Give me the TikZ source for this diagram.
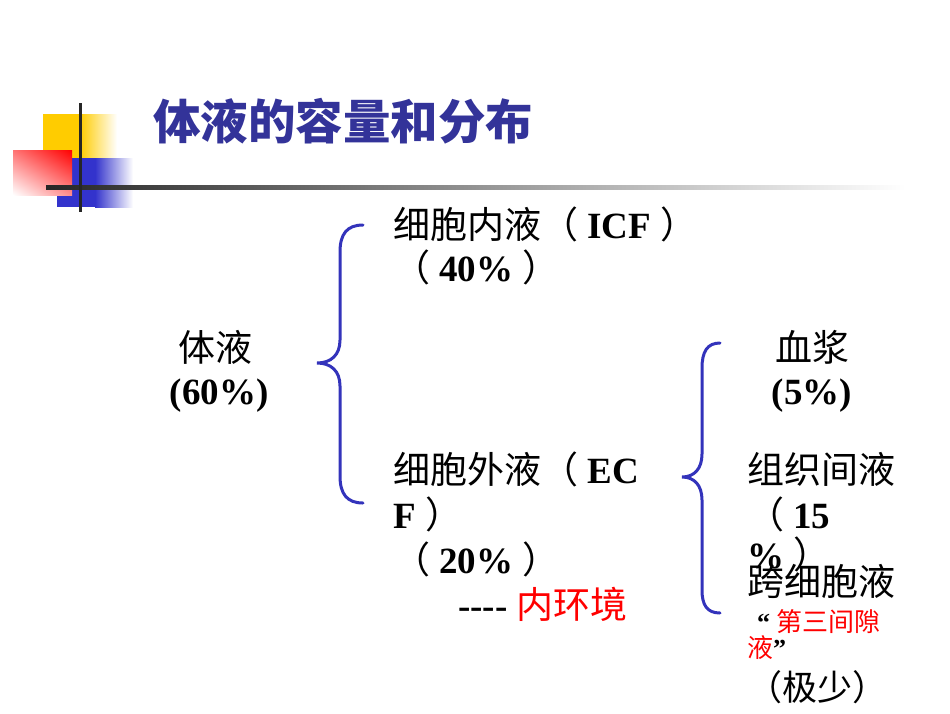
\documentclass[tikz,border=0pt]{standalone}
\usepackage{fontspec}
\usetikzlibrary{shadings}
\setmainfont{Liberation Serif}
\newfontfamily\cjk{Noto Sans CJK SC}
\newcommand\zht[1]{{\cjk #1}}
\newcommand\ent[1]{{\bfseries #1}}
\definecolor{titleblue}{RGB}{51,51,153}
\definecolor{braceblue}{RGB}{51,51,187}
\definecolor{decoyellow}{RGB}{255,204,0}
\definecolor{decoblue}{RGB}{51,51,204}
\definecolor{txtred}{RGB}{255,0,0}
\tikzset{
  body/.style={anchor=base west, inner sep=0pt, font=\fontsize{37}{44}\selectfont},
  small/.style={anchor=base west, inner sep=0pt, font=\fontsize{26}{30}\selectfont},
  bracestroke/.style={draw=braceblue, line width=3pt, line cap=round},
}
\begin{document}
\begin{tikzpicture}[x=1pt,y=-1pt]
\useasboundingbox (0,0) rectangle (950,713);
\fill[white] (0,0) rectangle (950,713);
% decoration squares
\fill[decoyellow] (43,114) rectangle (80,158);
\shade[left color=decoyellow, right color=white] (80,114) rectangle (117,158);
\fill[decoblue] (57,158) rectangle (95,207);
\shade[left color=decoblue, right color=white] (95,158) rectangle (133,207);
\shade[upper right=txtred, upper left=txtred!55!white, lower left=white, lower right=txtred!45!white] (13,150) rectangle (72,195);
\shade[left color=black!85, right color=white] (46,185.5) rectangle (905,189);
\fill[black!85] (79,103) rectangle (81.5,212);
% title
\node[anchor=base west, inner sep=0pt, text=titleblue, font=\fontsize{47.5}{52}\selectfont\cjk\bfseries] (title) at (153,139) {体液的容量和分布};
% left
\node[body, anchor=base] (tl1) at (215,361) {\zht{体液}};
\node[body, anchor=base] (tl2) at (219,404) {\ent{(60\%)}};
% left brace
\draw[bracestroke] (363,225) .. controls (347,225) and (340,234) .. (340,252) -- (340,340)
  .. controls (340,355) and (331,363) .. (317,363)
  .. controls (331,363) and (340,371) .. (340,386) -- (340,476)
  .. controls (340,494) and (347,503) .. (363,503);
% middle
\node[body] (icf1) at (393,238) {\zht{细胞内液（} \ent{ICF} \zht{）}};
\node[body] (icf2) at (393,281) {\zht{（} \ent{40\%} \zht{）}};
\node[body] (ecf1) at (393,483) {\zht{细胞外液（} \ent{EC}};
\node[body] (ecf2) at (393,528) {\ent{F} \zht{）}};
\node[body] (ecf3) at (393,573) {\zht{（} \ent{20\%} \zht{）}};
\node[body] (ecf4) at (458,618) {\ent{-{}-{}-{}-} \textcolor{txtred}{\zht{内环境}}};
% right brace
\draw[bracestroke] (720,343) .. controls (707,343) and (702,352) .. (702,368) -- (702,454)
  .. controls (702,469) and (694,477) .. (682,477)
  .. controls (694,477) and (702,485) .. (702,500) -- (702,590)
  .. controls (702,605) and (707,613) .. (720,613);
% right
\node[body, anchor=base] (pl1) at (812,361) {\zht{血浆}};
\node[body, anchor=base] (pl2) at (812,404) {\ent{(5\%)}};
\node[body] (is1) at (747,483) {\zht{组织间液}};
\node[body] (is2) at (747,528) {\zht{（} \ent{15}};
\node[body] (is3) at (747,568) {\ent{\%} \zht{）}};
\node[body] (tc1) at (747,595) {\zht{跨细胞液}};
\node[small] (tc2) at (757,631) {\ent{“} \textcolor{txtred}{\zht{第三间隙}}};
\node[small] (tc3) at (747,657) {\textcolor{txtred}{\zht{液}}\ent{”}};
\node[anchor=base west, inner sep=0pt, font=\fontsize{35}{40}\selectfont] (tc4) at (747,700) {\zht{（极少）}};
\end{tikzpicture}
\end{document}
